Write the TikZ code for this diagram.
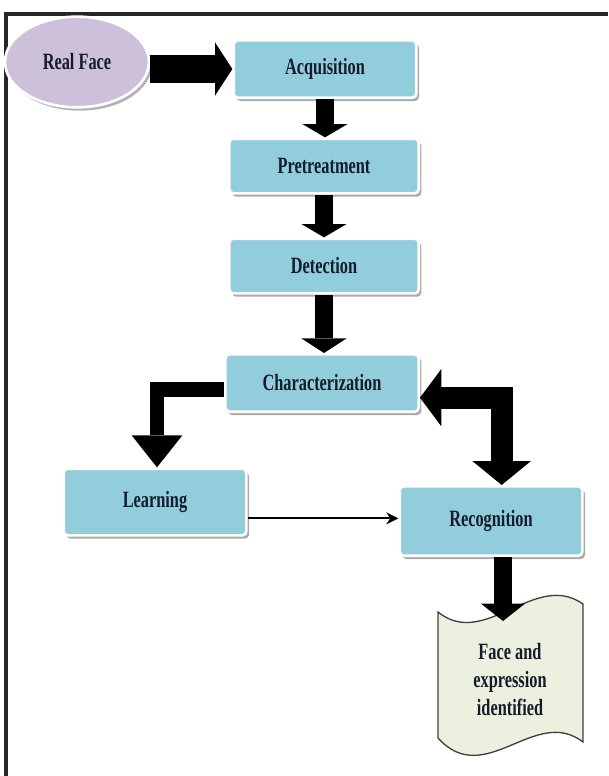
\documentclass[tikz,border=0pt]{standalone}
\usepackage{fontspec}
\newfontfamily\boxfont[FakeStretch=0.7]{Liberation Serif}
\usetikzlibrary{arrows.meta,shadows,shapes.geometric}
\definecolor{boxblue}{HTML}{92CDDC}
\definecolor{lav}{HTML}{CCC0DA}
\definecolor{docfill}{HTML}{EBF1DE}
\definecolor{txt}{HTML}{141C2A}
\begin{document}
\begin{tikzpicture}[x=0.75pt,y=-0.75pt,
  stage/.style={rectangle, rounded corners=3pt, fill=boxblue, draw=white, line width=2pt,
    drop shadow={shadow xshift=2pt, shadow yshift=-2.5pt, fill=black!60, opacity=0.55},
    font=\boxfont\bfseries\fontsize{17.5}{20}\selectfont, text=txt, inner sep=0pt},
  source/.style={ellipse, fill=lav, draw=white, line width=2pt,
    drop shadow={shadow xshift=2pt, shadow yshift=-2.5pt, fill=black!60, opacity=0.5},
    font=\boxfont\bfseries\fontsize{17.5}{20}\selectfont, text=txt, inner sep=0pt},
  doctext/.style={font=\boxfont\bfseries\fontsize{17.5}{21}\selectfont, text=txt, align=center, inner sep=0pt},
  frameline/.style={draw=black!85, line width=2.5pt},
  fatarrow/.style={draw=black, line cap=butt, line join=miter},
  thinarrow/.style={draw=black, line width=1.3pt, -{Stealth[length=9pt,width=9pt]}}
]
\useasboundingbox (0,0) rectangle (608,776);
% frame
\draw[frameline] (6,776) -- (6,14) -- (608,14);

% nodes
\node[source, minimum width=108pt, minimum height=68pt] (rf) at (77,62) {Real Face};
\node[stage, minimum width=137pt, minimum height=43pt] (acq) at (325,69) {Acquisition};
\node[stage, minimum width=142pt, minimum height=41pt] (pre) at (324,166) {Pretreatment};
\node[stage, minimum width=142pt, minimum height=41pt] (det) at (324,266) {Detection};
\node[stage, minimum width=145pt, minimum height=43pt] (char) at (322,383) {Characterization};
\node[stage, minimum width=137pt, minimum height=50pt] (learn) at (155,502) {Learning};
\node[stage, minimum width=137pt, minimum height=52pt] (rec) at (491,521) {Recognition};

% document shape
\draw[fill=docfill, draw=black!75, line width=1pt]
  (438,612) .. controls (485,650) and (535,570) .. (583,604)
  -- (583,742) .. controls (535,705) and (485,790) .. (438,738) -- cycle;
\node[doctext] (doc) at (510,680) {Face and\\expression\\identified};
\coordinate (doctop) at (503,621);

% connectors
\draw[fatarrow, line width=21pt, -{Triangle[width=40pt,length=13pt,line width=0pt]}]
  (rf.east |- acq.west) -- (acq.west);
\draw[fatarrow, line width=13.5pt, -{Triangle[width=34pt,length=10pt,line width=0pt]}]
  (acq.south) -- (acq.south |- pre.north);
\draw[fatarrow, line width=13.5pt, -{Triangle[width=34pt,length=10pt,line width=0pt]}]
  (pre.south) -- (pre.south |- det.north);
\draw[fatarrow, line width=13.5pt, -{Triangle[width=34pt,length=11pt,line width=0pt]}]
  (det.south) -- (det.south |- char.north);
\draw[fatarrow, line width=11pt, -{Triangle[width=38pt,length=24pt,line width=0pt]}]
  ([yshift=-5pt]char.west) -| ([xshift=1.5pt]learn.north);
\draw[fatarrow, line width=16.5pt,
  {Triangle[width=43pt,length=16pt,line width=0pt]}-{Triangle[width=44pt,length=18pt,line width=0pt]}]
  ([yshift=-11pt]char.east) -| ([xshift=8pt]rec.north);
\draw[thinarrow] ([yshift=2pt]learn.east |- rec.west) -- ([yshift=2pt]rec.west);
\draw[fatarrow, line width=13pt, -{Triangle[width=33pt,length=13pt,line width=0pt]}]
  ([xshift=9pt]rec.south) -- (doctop);
\end{tikzpicture}
\end{document}
